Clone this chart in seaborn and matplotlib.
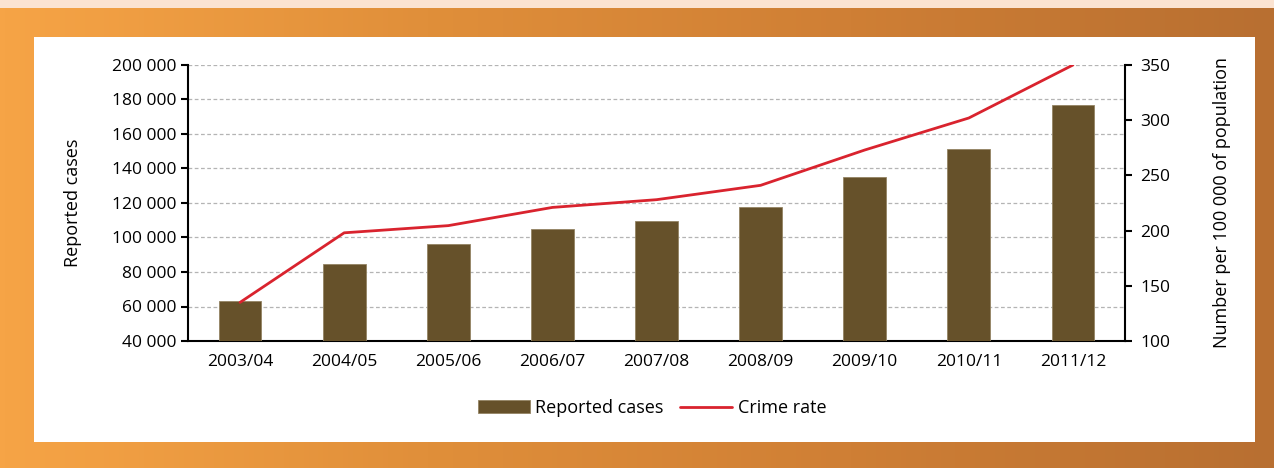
import numpy as np
import pandas as pd
import matplotlib
matplotlib.use("Agg")
import matplotlib.pyplot as plt
import matplotlib.ticker as mticker
from matplotlib.patches import Rectangle, Patch
from matplotlib.lines import Line2D
import seaborn as sns

years = ["2003/04", "2004/05", "2005/06", "2006/07", "2007/08",
         "2008/09", "2009/10", "2010/11", "2011/12"]
reported_cases = [63200, 84600, 96000, 105000, 109600, 117700, 135200, 151200, 176800]
crime_rate = [135, 198, 204.5, 221, 228, 241, 273, 302, 350]

BAR_COLOR  = "#66512a"
LINE_COLOR = "#d9232e"

sns.set_theme(style="white")
plt.rcParams["font.family"] = ["Open Sans", "DejaVu Sans"]
plt.rcParams["text.color"] = "black"
plt.rcParams["axes.labelcolor"] = "black"
plt.rcParams["xtick.color"] = "black"
plt.rcParams["ytick.color"] = "black"

fig = plt.figure(figsize=(12.74, 4.68), dpi=100)

# orange gradient background + white panel
bg = fig.add_axes([0, 0, 1, 1], zorder=-10)
grad = np.linspace(0, 1, 256)[None, :]
cmap = matplotlib.colors.LinearSegmentedColormap.from_list(
    "bg", ["#f6a446", "#e08f3a", "#cf7f35", "#b86f31"])
bg.imshow(grad, aspect="auto", cmap=cmap, extent=[0, 1, 0, 1])
bg.add_patch(Rectangle((0, 1 - 8 / 468), 1, 8 / 468, color="#fbe3d1", lw=0))
bg.add_patch(Rectangle((34 / 1274, 1 - 442 / 468), (1255 - 34) / 1274, 405 / 468,
                       color="white", lw=0))
bg.set_xlim(0, 1)
bg.set_ylim(0, 1)
bg.axis("off")

ax = fig.add_axes([188 / 1274, 1 - 341 / 468, (1125 - 188) / 1274, 276 / 468])
ax.set_facecolor("none")

df = pd.DataFrame({"year": years, "cases": reported_cases, "rate": crime_rate})
sns.barplot(data=df, x="year", y="cases", color=BAR_COLOR, width=0.41,
            saturation=1, edgecolor="#938463", linewidth=0.6, ax=ax, zorder=3)

ax.set_ylim(40000, 200000)
ax.set_xlim(-0.5, len(years) - 0.5)
ax.yaxis.set_major_locator(mticker.MultipleLocator(20000))
ax.yaxis.set_major_formatter(mticker.FuncFormatter(lambda v, p: f"{int(v):,}".replace(",", " ")))
ax.grid(axis="y", color="#b4b4b4", linestyle=(0, (3, 2)), linewidth=0.9, zorder=0)
ax.set_axisbelow(True)

ax.set_xticks(np.arange(-0.5, len(years), 1.0), minor=True)
ax.tick_params(axis="x", which="major", length=0, pad=9, labelsize=12.5)
ax.tick_params(axis="x", which="minor", length=6, width=1.5, color="black", direction="out")
ax.tick_params(axis="y", length=5, width=1.5, color="black", direction="out", left=True,
               labelsize=12.5, pad=3)
ax.set_xlabel("")
ax.set_ylabel("Reported cases", fontsize=13, labelpad=22)

for side in ["top", "right"]:
    ax.spines[side].set_visible(False)
for side in ["left", "bottom"]:
    ax.spines[side].set_color("black")
    ax.spines[side].set_linewidth(1.5)

ax2 = ax.twinx()
sns.lineplot(x=np.arange(len(years)), y=crime_rate, color=LINE_COLOR, linewidth=2,
             ax=ax2, zorder=5)
ax2.set_ylim(100, 350)
ax2.yaxis.set_major_locator(mticker.MultipleLocator(50))
ax2.tick_params(axis="y", length=5, width=1.5, color="black", direction="out", right=True,
                labelsize=12.5, pad=6)
ax2.set_ylabel("Number per 100 000 of population", fontsize=13, labelpad=31)
ax2.grid(False)
for side in ["top", "left", "bottom"]:
    ax2.spines[side].set_visible(False)
ax2.spines["right"].set_color("black")
ax2.spines["right"].set_linewidth(1.5)

handles = [Patch(facecolor=BAR_COLOR, edgecolor="#938463", linewidth=0.6),
           Line2D([0], [0], color=LINE_COLOR, linewidth=2)]
fig.legend(handles, ["Reported cases", "Crime rate"], loc="center",
           bbox_to_anchor=(652 / 1274, 1 - 408 / 468), ncol=2, frameon=False,
           fontsize=13, handlelength=2.9, handleheight=0.75, columnspacing=0.9,
           handletextpad=0.3)

fig.savefig("out.png", dpi=100)
